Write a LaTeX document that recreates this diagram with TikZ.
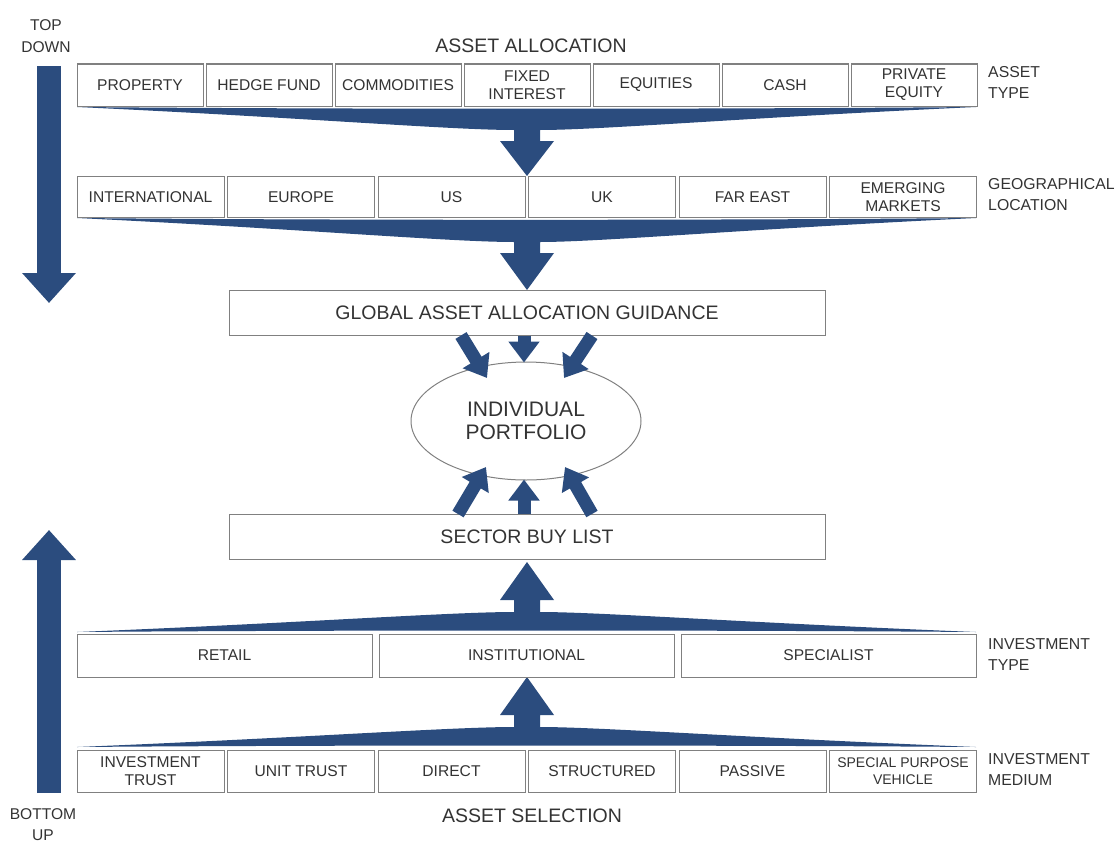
\documentclass[tikz,border=0pt]{standalone}
\usepackage{fontspec}
\setmainfont{Liberation Sans}
\usetikzlibrary{arrows.meta,positioning,shapes.geometric,calc}
\definecolor{navy}{HTML}{2B4C7E}
\definecolor{txt}{HTML}{333333}
\newcommand{\boxfont}{\fontsize{15.6}{18}\selectfont}
\newcommand{\sidefont}{\fontsize{15.8}{21}\selectfont}
\newcommand{\titlefont}{\fontsize{19.5}{22}\selectfont}
% #1 edge y, #2 stem y, #3 head y, #4 tip y
\newcommand{\funnel}[4]{%
  \fill[navy] (77,#1) .. controls (330,{#1+0.1*(#2-#1)}) and (720,{#1+0.1*(#2-#1)}) .. (976,#1)
    .. controls (750,{#1+0.45*(#2-#1)}) and (600,#2) .. (540,#2)
    -- (540,#3) -- (554,#3) -- (527,#4) -- (500,#3) -- (514,#3) -- (514,#2)
    .. controls (450,#2) and (300,{#1+0.45*(#2-#1)}) .. (77,#1) -- cycle;}

\begin{document}
\begin{tikzpicture}[x=1pt,y=-1pt,
  box/.style={draw=black!50,line width=1pt,fill=white,inner sep=0pt,align=center,text=txt,font=\boxfont},
  abox/.style={box,minimum width=126pt,minimum height=42pt},
  gbox/.style={box,minimum width=147pt,minimum height=41pt},
  tbox/.style={box,minimum width=295pt,minimum height=43pt},
  wbox/.style={box,minimum width=596pt,minimum height=45pt,font=\titlefont},
  side/.style={anchor=west,align=left,text=txt,font=\sidefont,inner sep=0pt},
  bigarrow/.style={navy,line width=24pt,-{Triangle[width=52pt,length=30pt]}},
  fatarrow/.style={navy,line width=13pt,-{Triangle[width=30pt,length=21pt]}}]
  \useasboundingbox (0,0) rectangle (1118,843);

  \node[text=txt,font=\titlefont] (alloc) at (531,46) {ASSET ALLOCATION};   %Top title
  \node[text=txt,font=\titlefont] (select) at (532,816) {ASSET SELECTION};  %Bottom title

  % Top down / bottom up arrows
  \node[text=txt,align=center,font=\fontsize{15.6}{22}\selectfont] (td) at (46,36) {TOP\\DOWN};
  \node[text=txt,align=center,font=\fontsize{15.6}{21}\selectfont] (bu) at (43,825) {BOTTOM\\UP};
  \coordinate (tdtop) at (49,66);
  \coordinate (tdtip) at (49,303);
  \coordinate (bubot) at (49,793);
  \coordinate (butip) at (49,530);
  \draw[bigarrow] (tdtop) -- (tdtip);
  \draw[bigarrow] (bubot) -- (butip);

  % Funnels
  \funnel{107}{130}{141}{176}
  \funnel{218}{242}{253}{290}
  \funnel{632}{612}{600}{562}
  \funnel{747}{727}{715}{677}

  % Asset type
  \node[abox] (property) at (140,85) {PROPERTY};
  \node[abox] (hedge) at (269,85) {HEDGE FUND};
  \node[abox] (commod) at (398,85) {COMMODITIES};
  \node[abox] (fixed) at (527,85) {FIXED\\INTEREST};
  \node[abox] (equities) at (656,85) {EQUITIES};
  \node[abox] (cash) at (785,85) {CASH};
  \node[abox] (private) at (914,85) {PRIVATE\\EQUITY};
  \node[side] (assettype) at (988,82) {ASSET\\TYPE};

  % Geographical location
  \node[gbox] (intl) at (150.5,197) {INTERNATIONAL};
  \node[gbox] (europe) at (301,197) {EUROPE};
  \node[gbox] (us) at (451.5,197) {US};
  \node[gbox] (uk) at (602,197) {UK};
  \node[gbox] (fareast) at (752.5,197) {FAR EAST};
  \node[gbox] (emerging) at (903,197) {EMERGING\\MARKETS};
  \node[side] (geo) at (988,195) {GEOGRAPHICAL\\LOCATION};

  \node[wbox] (gaa) at (527,312.5) {GLOBAL ASSET ALLOCATION GUIDANCE};
  \node[ellipse,draw=black!50,line width=1pt,minimum width=230pt,minimum height=118pt,
        inner sep=0pt,align=center,text=txt,font=\fontsize{21}{23}\selectfont]
        (indiv) at (526,421) {INDIVIDUAL\\PORTFOLIO};
  \node[wbox] (sbl) at (527,537) {SECTOR BUY LIST};

  % Arrows into the portfolio
  \draw[fatarrow] ($(gaa.south)+(-66,0)$) -- ($(indiv.center)+(-39,-43)$);
  \draw[fatarrow] ($(gaa.south)+(-3,0)$) -- ($(indiv.north)+(-2,1)$);
  \draw[fatarrow] ($(gaa.south)+(65,0)$) -- ($(indiv.center)+(38,-43)$);
  \draw[fatarrow] ($(sbl.north)+(-69,0)$) -- ($(indiv.center)+(-40,46)$);
  \draw[fatarrow] ($(sbl.north)+(-3,0)$) -- ($(indiv.south)+(-2,-1)$);
  \draw[fatarrow] ($(sbl.north)+(65,0)$) -- ($(indiv.center)+(39,46)$);

  % Investment type
  \node[tbox] (retail) at (224.5,655.5) {RETAIL};
  \node[tbox] (inst) at (526.5,655.5) {INSTITUTIONAL};
  \node[tbox] (spec) at (828.5,655.5) {SPECIALIST};
  \node[side] (invtype) at (988,654) {INVESTMENT\\TYPE};

  % Investment medium
  \node[gbox,minimum height=42pt] (trust) at (150.5,771) {INVESTMENT\\TRUST};
  \node[gbox,minimum height=42pt] (unit) at (301,771) {UNIT TRUST};
  \node[gbox,minimum height=42pt] (direct) at (451.5,771) {DIRECT};
  \node[gbox,minimum height=42pt] (struct) at (602,771) {STRUCTURED};
  \node[gbox,minimum height=42pt] (passive) at (752.5,771) {PASSIVE};
  \node[gbox,minimum height=42pt,font=\fontsize{14}{17}\selectfont] (spv) at (903,771) {SPECIAL PURPOSE\\VEHICLE};
  \node[side] (invmed) at (988,770) {INVESTMENT\\MEDIUM};
\end{tikzpicture}
\end{document}
